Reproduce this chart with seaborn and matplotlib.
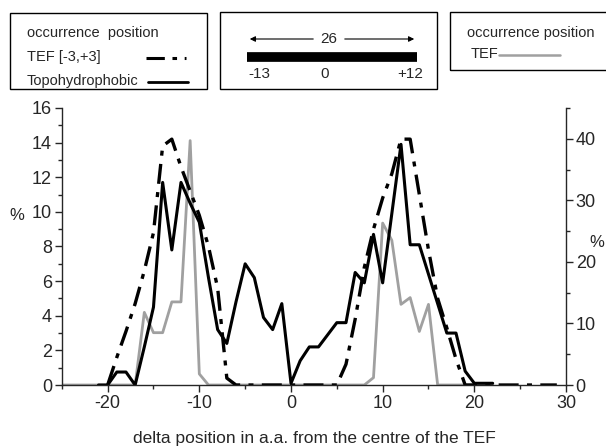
import numpy as np
import pandas as pd
import matplotlib
matplotlib.use('Agg')
import matplotlib.pyplot as plt
from matplotlib.patches import Rectangle, FancyArrowPatch
from matplotlib.lines import Line2D
from matplotlib.ticker import MultipleLocator
import seaborn as sns

# Topohydrophobic occurrence (left axis, %)
topo_pos = list(range(-21, 23))
topo_val = [0, 0, 0.75, 0.75, 0, 2.2, 4.5, 11.7, 7.8, 11.7, 10.5, 9.4, 6.2, 3.2, 2.4,
            4.8, 7.0, 6.2, 3.9, 3.2, 4.7, 0.1, 1.4, 2.2, 2.2, 2.9, 3.6, 3.6, 6.5, 5.9,
            8.7, 5.9, 9.9, 13.9, 8.1, 8.1, 6.4, 4.7, 3.0, 3.0, 0.8, 0.1, 0.1, 0.1]

# TEF [-3,+3] occurrence (left axis, %)
tef33_pos = list(range(-20, 30))
tef33_val = [0, 1.6, 3.1, 4.7, 6.6, 8.8, 13.8, 14.2, 12.6, 11.2, 9.8, 8.0, 5.6, 0.4,
             0, 0, 0, 0, 0, 0, 0, 0, 0, 0, 0, 0, 1.2, 3.8, 6.8, 9.0, 10.8, 12.2, 14.2,
             14.2, 11.0, 7.8, 5.0, 3.3, 1.5, 0, 0, 0, 0, 0, 0, 0, 0, 0, 0, 0]

# TEF occurrence (right axis, %)
tef_pos = list(range(-25, 23))
tef_val = [0, 0, 0, 0, 0, 0, 0, 0, 0, 11.8, 8.5, 8.5, 13.5, 13.5, 39.7, 1.8, 0,
           0, 0, 0, 0, 0, 0, 0, 0, 0, 0, 0, 0, 0, 0, 0, 0, 0, 1.2, 26.3, 23.5,
           13.1, 14.2, 8.7, 13.1, 0, 0, 0, 0, 0, 0, 0]

sns.set_style('ticks')
plt.rcParams['font.family'] = ['Liberation Sans', 'DejaVu Sans']
plt.rcParams['axes.unicode_minus'] = False

fig = plt.figure(figsize=(6.06, 4.48), dpi=100)
ax = fig.add_axes([0.102, 0.1406, 0.832, 0.6184])
ax2 = ax.twinx()

topo = pd.DataFrame({'pos': topo_pos, 'val': topo_val})
tef33 = pd.DataFrame({'pos': tef33_pos, 'val': tef33_val})
tef = pd.DataFrame({'pos': tef_pos, 'val': tef_val})

dashdot = (0, (6, 2.5, 1.5, 2.5))

# gray TEF curve sits on the right axis, behind the black curves
sns.lineplot(data=tef, x='pos', y='val', ax=ax2, color='#a0a0a0', lw=2.0)
sns.lineplot(data=tef33, x='pos', y='val', ax=ax, color='black', lw=2.4,
             dashes=False, linestyle=dashdot)
sns.lineplot(data=topo, x='pos', y='val', ax=ax, color='black', lw=2.2)

ax.set_zorder(ax2.get_zorder() + 1)
ax.patch.set_visible(False)

ax.set_xlim(-25, 30)
ax.set_ylim(0, 16)
ax2.set_ylim(0, 45)
ax.xaxis.set_major_locator(MultipleLocator(10))
ax.xaxis.set_minor_locator(MultipleLocator(5))
ax.yaxis.set_major_locator(MultipleLocator(2))
ax.yaxis.set_minor_locator(MultipleLocator(1))
ax2.yaxis.set_major_locator(MultipleLocator(10))
ax2.yaxis.set_minor_locator(MultipleLocator(5))

for a in (ax, ax2):
    a.spines['top'].set_visible(False)
    for s in a.spines.values():
        s.set_linewidth(1.0)
    a.tick_params(which='major', length=5, width=1, labelsize=13, pad=2)
    a.tick_params(which='minor', length=3, width=1)
ax.spines['right'].set_visible(False)
ax2.spines['left'].set_visible(False)
ax2.spines['bottom'].set_visible(False)

ax.set_xlabel('delta position in a.a. from the centre of the TEF', fontsize=12.5, labelpad=14)
ax.set_ylabel('%', rotation=0, fontsize=12)
ax.yaxis.set_label_coords(-0.089, 0.585)
ax2.set_ylabel('%', rotation=0, fontsize=12)
ax2.yaxis.set_label_coords(1.062, 0.54)

# legend boxes drawn in figure pixels
W, H = 606.0, 448.0
def fx(px):
    return px / W
def fy(py):
    return 1 - py / H

def box(x0, y0, x1, y1):
    fig.add_artist(Rectangle((fx(x0), fy(y1)), fx(x1) - fx(x0), fy(y0) - fy(y1),
                             transform=fig.transFigure, fill=False, lw=1.0, ec='black'))

def seg(x0, x1, y, **kw):
    fig.add_artist(Line2D([fx(x0), fx(x1)], [fy(y), fy(y)], transform=fig.transFigure, **kw))

box(10, 13, 207, 89)
fig.text(fx(27), fy(33), 'occurrence  position', fontsize=10.5, va='center')
fig.text(fx(27), fy(57), 'TEF [-3,+3]', fontsize=10.5, va='center')
fig.text(fx(27), fy(81), 'Topohydrophobic', fontsize=10.5, va='center')
seg(146, 186, 58, color='black', lw=2.2, linestyle=dashdot)
seg(148, 188, 82, color='black', lw=2.0)

box(220, 12, 437, 89)
seg(247, 417, 57, color='black', lw=7, solid_capstyle='butt')
fig.text(fx(329), fy(39), '26', fontsize=11, ha='center', va='center')
fig.add_artist(FancyArrowPatch((fx(316), fy(39)), (fx(247), fy(39)), transform=fig.transFigure,
                               arrowstyle='-|>', mutation_scale=8, lw=0.8, color='black'))
fig.add_artist(FancyArrowPatch((fx(342), fy(39)), (fx(417), fy(39)), transform=fig.transFigure,
                               arrowstyle='-|>', mutation_scale=8, lw=0.8, color='black'))
fig.text(fx(259), fy(74), '-13', fontsize=11, ha='center', va='center')
fig.text(fx(325), fy(74), '0', fontsize=11, ha='center', va='center')
fig.text(fx(410), fy(74), '+12', fontsize=11, ha='center', va='center')

box(450, 12, 610, 70)
fig.text(fx(531), fy(33), 'occurrence position', fontsize=10.5, ha='center', va='center')
fig.text(fx(471), fy(54), 'TEF', fontsize=10.5, va='center')
seg(499, 560, 55, color='#a0a0a0', lw=1.8)

fig.savefig('out.png', dpi=100)
